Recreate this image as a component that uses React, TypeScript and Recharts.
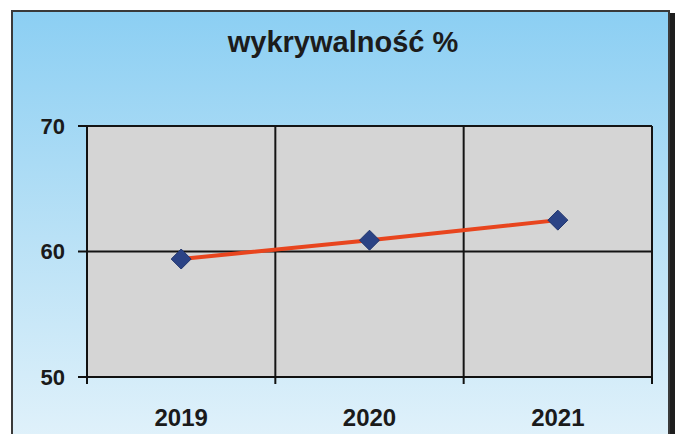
import React from 'react';
import { LineChart, Line, XAxis, YAxis, CartesianGrid } from 'recharts';

const title = 'wykrywalność %';
const years = ['2019', '2020', '2021'];
const values = [59.4, 60.9, 62.5];
const yTicks = [50, 60, 70];

const data = years.map((year, i) => ({ pos: i + 0.5, year, value: values[i] }));
const FONT = '"Liberation Sans", Arial, sans-serif';

const Diamond = (props: any) => {
  const { cx, cy, index } = props;
  if (cx == null || cy == null) return <g key={`d${index}`} />;
  const r = 10;
  return (
    <path
      key={`d${index}`}
      d={`M${cx},${cy - r} L${cx + r},${cy} L${cx},${cy + r} L${cx - r},${cy} Z`}
      fill="#2b4385"
      stroke="#22366e"
      strokeWidth={1}
    />
  );
};

export default function App() {
  return (
    <div style={{ position: 'absolute', left: 0, top: 0, width: 679, height: 434, background: '#fff', overflow: 'hidden', fontFamily: FONT }}>
      <div
        style={{
          position: 'absolute',
          left: 11,
          top: 10,
          width: 655,
          height: 500,
          border: '2px solid #3a3a3a',
          boxShadow: '5px 3px 0 0 #1e1e1e',
          background: 'linear-gradient(to bottom, #8ccff3 0%, #b9e1f6 45%, #eef7fc 100%)',
        }}
      />
      <div
        style={{
          position: 'absolute',
          left: 0,
          width: 686,
          top: 28,
          lineHeight: '29px',
          fontSize: 29,
          fontWeight: 'bold',
          textAlign: 'center',
          color: '#1c1c1c',
        }}
      >
        {title}
      </div>
      <div style={{ position: 'absolute', left: 0, top: 0 }}>
        <LineChart width={679} height={434} data={data} margin={{ top: 126, right: 27, bottom: 9, left: 0 }}>
          <CartesianGrid xAxisId={0} fill="#d5d5d5" fillOpacity={1} stroke="#141414" strokeWidth={2} />
          <XAxis
            xAxisId={0}
            dataKey="pos"
            type="number"
            domain={[0, 3]}
            ticks={[0, 1, 2, 3]}
            tickFormatter={() => ''}
            height={8}
            tickSize={7}
            axisLine={{ stroke: '#111', strokeWidth: 2 }}
            tickLine={{ stroke: '#111', strokeWidth: 2 }}
          />
          <XAxis
            xAxisId="lab"
            dataKey="pos"
            type="number"
            domain={[0, 3]}
            ticks={[0.5, 1.5, 2.5]}
            tickFormatter={(v: number) => years[Math.floor(v)]}
            height={40}
            tickSize={0}
            tickMargin={24}
            axisLine={false}
            tickLine={false}
            tick={{ fill: '#1a1a1a', fontSize: 24, fontWeight: 'bold', fontFamily: FONT }}
          />
          <YAxis
            domain={[50, 70]}
            ticks={yTicks}
            width={87}
            tickSize={9}
            tickMargin={13}
            axisLine={{ stroke: '#111', strokeWidth: 2 }}
            tickLine={{ stroke: '#111', strokeWidth: 2 }}
            tick={{ fill: '#1a1a1a', fontSize: 22, fontWeight: 'bold', fontFamily: FONT }}
          />
          <Line
            xAxisId={0}
            dataKey="value"
            stroke="#e8451e"
            strokeWidth={4}
            dot={Diamond}
            activeDot={false}
            isAnimationActive={false}
          />
        </LineChart>
      </div>
    </div>
  );
}
